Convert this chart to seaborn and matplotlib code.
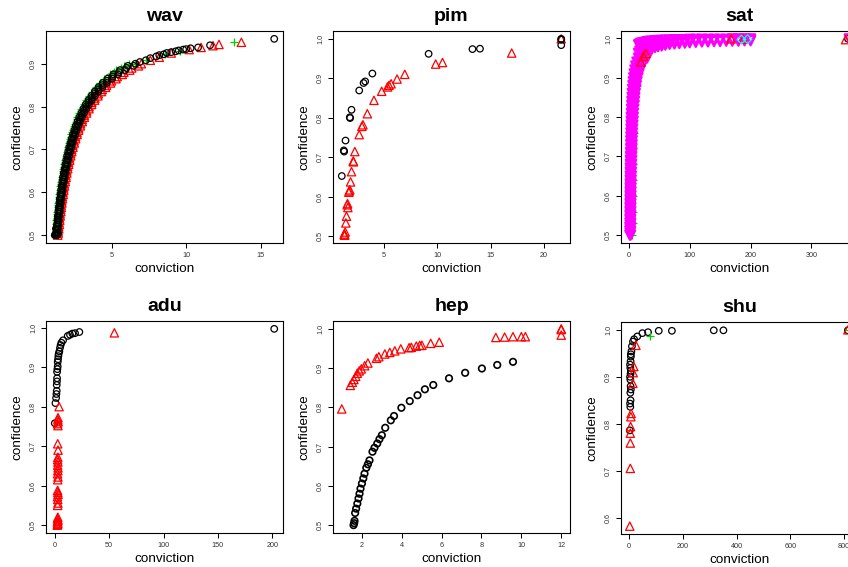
import matplotlib
matplotlib.use('Agg')
import matplotlib.pyplot as plt
from matplotlib.ticker import MultipleLocator
import seaborn as sns

sns.set_theme(style="ticks")
plt.rcParams['font.family'] = ['Liberation Sans', 'DejaVu Sans']
plt.rcParams['text.color'] = 'black'
plt.rcParams['axes.labelcolor'] = 'black'

# R default palette (pch/col by class)
BLACK = 'black'
RED = '#FF0000'
GREEN = '#00CD00'
CYAN = '#00FFFF'
MAGENTA = '#FF00FF'

# ---------------- wav ----------------
wav_conf = [0.50, 0.51, 0.52, 0.53, 0.54, 0.55, 0.56, 0.57, 0.58, 0.59,
            0.60, 0.61, 0.62, 0.63, 0.64, 0.65, 0.66, 0.67, 0.68, 0.69,
            0.70, 0.71, 0.72, 0.73, 0.74, 0.75, 0.76, 0.77, 0.78, 0.79,
            0.80, 0.81, 0.82, 0.83, 0.84, 0.85, 0.86, 0.87, 0.88, 0.89, 0.90]
wav_conf_half = [0.505, 0.515, 0.525, 0.535, 0.545, 0.555, 0.565, 0.575, 0.585, 0.595,
                 0.605, 0.615, 0.625, 0.635, 0.645, 0.655, 0.665, 0.675, 0.685, 0.695,
                 0.705, 0.715, 0.725, 0.735, 0.745, 0.755, 0.765, 0.775, 0.785, 0.795,
                 0.805, 0.815, 0.825, 0.835, 0.845, 0.855, 0.865, 0.875, 0.885, 0.895]
wav_black_conv = [1.32, 1.35, 1.38, 1.40, 1.43, 1.47, 1.50, 1.54, 1.57, 1.61,
                  1.65, 1.69, 1.74, 1.78, 1.83, 1.89, 1.94, 2.00, 2.06, 2.13,
                  2.20, 2.28, 2.36, 2.44, 2.54, 2.64, 2.75, 2.87, 3.00, 3.14,
                  3.30, 3.47, 3.67, 3.88, 4.13, 4.40, 4.71, 5.08, 5.50, 6.00, 6.60]
wav_black_half_a = [1.29, 1.32, 1.35, 1.38, 1.41, 1.44, 1.47, 1.51, 1.54, 1.58,
                    1.62, 1.66, 1.71, 1.75, 1.80, 1.86, 1.91, 1.97, 2.03, 2.10,
                    2.17, 2.25, 2.33, 2.42, 2.51, 2.61, 2.72, 2.84, 2.98, 3.12,
                    3.28, 3.46, 3.66, 3.88, 4.13, 4.41, 4.74, 5.12, 5.57, 6.10]
wav_black_half_b = [1.37, 1.40, 1.43, 1.46, 1.50, 1.53, 1.56, 1.60, 1.64, 1.68,
                    1.72, 1.77, 1.81, 1.86, 1.92, 1.97, 2.03, 2.09, 2.16, 2.23,
                    2.31, 2.39, 2.47, 2.57, 2.67, 2.78, 2.89, 3.02, 3.16, 3.32,
                    3.49, 3.68, 3.89, 4.12, 4.39, 4.69, 5.04, 5.44, 5.91, 6.48]
wav_red_conv = [1.40, 1.43, 1.46, 1.49, 1.52, 1.56, 1.59, 1.63, 1.67, 1.71,
                1.75, 1.80, 1.84, 1.89, 1.94, 2.00, 2.06, 2.12, 2.19, 2.26,
                2.33, 2.41, 2.50, 2.59, 2.69, 2.80, 2.92, 3.04, 3.18, 3.33,
                3.50, 3.68, 3.89, 4.12, 4.38, 4.67, 5.00, 5.38, 5.83, 6.36, 7.00]
wav_red_half = [1.44, 1.47, 1.51, 1.54, 1.57, 1.61, 1.64, 1.68, 1.72, 1.77,
                1.81, 1.86, 1.91, 1.96, 2.01, 2.07, 2.13, 2.20, 2.27, 2.34,
                2.42, 2.51, 2.60, 2.70, 2.80, 2.92, 3.04, 3.18, 3.33, 3.49,
                3.67, 3.87, 4.09, 4.33, 4.61, 4.93, 5.30, 5.72, 6.22, 6.81]
wav_green_conv = [1.24, 1.27, 1.29, 1.32, 1.35, 1.38, 1.41, 1.44, 1.48, 1.51,
                  1.55, 1.59, 1.63, 1.68, 1.72, 1.77, 1.82, 1.88, 1.94, 2.00,
                  2.07, 2.14, 2.21, 2.30, 2.38, 2.48, 2.58, 2.70, 2.82, 2.95,
                  3.10, 3.26, 3.44, 3.65, 3.88, 4.13, 4.43, 4.77, 5.17, 5.64, 6.20]
wav_green_half = [1.23, 1.26, 1.28, 1.31, 1.34, 1.37, 1.40, 1.44, 1.47, 1.51,
                  1.54, 1.58, 1.63, 1.67, 1.72, 1.77, 1.82, 1.88, 1.94, 2.00,
                  2.07, 2.14, 2.22, 2.30, 2.39, 2.49, 2.60, 2.71, 2.84, 2.98,
                  3.13, 3.30, 3.49, 3.70, 3.94, 4.21, 4.52, 4.88, 5.30, 5.81]
wav_black_extra_conv = [1.20, 1.25, 1.30, 1.36, 1.42, 1.28, 1.34,
                        6.9, 7.3, 7.6, 8.0, 8.2, 8.5, 8.7, 9.0, 9.3, 9.5, 9.8,
                        10.0, 10.3, 10.8, 11.6, 15.9]
wav_black_extra_conf = [0.500, 0.500, 0.505, 0.500, 0.505, 0.515, 0.520,
                        0.904, 0.908, 0.913, 0.917, 0.920, 0.922, 0.925, 0.927, 0.929,
                        0.931, 0.933, 0.934, 0.936, 0.938, 0.943, 0.958]
wav_red_extra_conv = [7.6, 8.2, 9.0, 10.2, 11.0, 11.8, 12.2, 13.7]
wav_red_extra_conf = [0.908, 0.915, 0.925, 0.933, 0.938, 0.942, 0.945, 0.950]
wav_green_extra_conv = [6.6, 7.3, 8.6, 9.6, 13.2]
wav_green_extra_conf = [0.900, 0.908, 0.922, 0.930, 0.950]

# ---------------- pim ----------------
pim_black_conv = [1.08, 1.27, 1.30, 1.43, 1.83, 1.86, 1.99, 2.71, 3.12, 3.27,
                  3.94, 9.2, 13.3, 14.0, 21.6, 21.6, 21.6]
pim_black_conf = [0.652, 0.717, 0.714, 0.742, 0.801, 0.799, 0.820, 0.869, 0.888, 0.892,
                  0.912, 0.962, 0.974, 0.975, 1.000, 0.998, 0.984]
pim_red_conv = [1.31, 1.33, 1.36, 1.40, 1.46, 1.52, 1.59, 1.62, 1.65, 1.74,
                1.78, 1.83, 1.90, 1.99, 2.15, 2.17, 2.30, 2.71, 2.96, 3.06,
                3.47, 4.09, 4.81, 5.35, 5.50, 5.69, 6.25, 6.97, 9.86, 10.5,
                16.97, 21.6]
pim_red_conf = [0.503, 0.505, 0.502, 0.510, 0.533, 0.550, 0.579, 0.582, 0.572, 0.611,
                0.614, 0.617, 0.637, 0.663, 0.690, 0.688, 0.714, 0.757, 0.778, 0.782,
                0.810, 0.844, 0.867, 0.878, 0.882, 0.886, 0.898, 0.910, 0.936, 0.940,
                0.964, 1.000]

# ---------------- sat ----------------
sat_mag_conf_v = [0.50, 0.51, 0.52, 0.53, 0.54, 0.55, 0.56, 0.57, 0.58, 0.59,
                  0.60, 0.61, 0.62, 0.63, 0.64, 0.65, 0.66, 0.67, 0.68, 0.69,
                  0.70, 0.71, 0.72, 0.73, 0.74, 0.75, 0.76, 0.77, 0.78, 0.79,
                  0.80, 0.81, 0.82, 0.83, 0.84, 0.85, 0.86, 0.87, 0.88, 0.89,
                  0.90, 0.91, 0.92, 0.93, 0.94, 0.95]
sat_mag_conf_half = [0.505, 0.515, 0.525, 0.535, 0.545, 0.555, 0.565, 0.575, 0.585, 0.595,
                     0.605, 0.615, 0.625, 0.635, 0.645, 0.655, 0.665, 0.675, 0.685, 0.695,
                     0.705, 0.715, 0.725, 0.735, 0.745, 0.755, 0.765, 0.775, 0.785, 0.795,
                     0.805, 0.815, 0.825, 0.835, 0.845, 0.855, 0.865, 0.875, 0.885, 0.895,
                     0.905, 0.915, 0.925, 0.935, 0.945]
sat_mag_left_conv = [1.60, 1.63, 1.67, 1.70, 1.74, 1.78, 1.82, 1.86, 1.90, 1.95,
                     2.00, 2.05, 2.11, 2.16, 2.22, 2.29, 2.35, 2.42, 2.50, 2.58,
                     2.67, 2.76, 2.86, 2.96, 3.08, 3.20, 3.33, 3.48, 3.64, 3.81,
                     4.00, 4.21, 4.44, 4.71, 5.00, 5.33, 5.71, 6.15, 6.67, 7.27,
                     8.00, 8.89, 10.0, 11.4, 13.3, 16.0]
sat_mag_mid_conv = [2.22, 2.27, 2.32, 2.37, 2.42, 2.47, 2.53, 2.59, 2.65, 2.72,
                    2.78, 2.86, 2.93, 3.01, 3.10, 3.19, 3.28, 3.38, 3.49, 3.61,
                    3.73, 3.86, 4.00, 4.15, 4.31, 4.49, 4.68, 4.89, 5.12, 5.37,
                    5.64, 5.95, 6.29, 6.67, 7.10, 7.59, 8.15, 8.80, 9.57, 10.5,
                    11.6, 12.9, 14.7, 16.9, 20.0]
sat_mag_right_conv = [3.00, 3.06, 3.13, 3.19, 3.26, 3.33, 3.41, 3.49, 3.57, 3.66,
                      3.75, 3.85, 3.95, 4.05, 4.17, 4.29, 4.41, 4.55, 4.69, 4.84,
                      5.00, 5.17, 5.36, 5.56, 5.77, 6.00, 6.25, 6.52, 6.82, 7.14,
                      7.50, 7.89, 8.33, 8.82, 9.38, 10.0, 10.7, 11.5, 12.5, 13.6,
                      15.0, 16.7, 18.8, 21.4, 25.0, 30.0]
sat_mag_h_conv = [16, 18, 20, 23, 26, 30, 34, 38, 43, 48, 54, 60, 67, 75, 83, 92,
                  100, 110, 120, 130, 140, 150, 160, 170, 180, 190, 200]
sat_mag_h_low = [0.940, 0.947, 0.952, 0.958, 0.963, 0.967, 0.971, 0.974, 0.977, 0.979,
                 0.981, 0.983, 0.985, 0.986, 0.987, 0.988, 0.989, 0.990, 0.991, 0.991,
                 0.992, 0.992, 0.993, 0.993, 0.993, 0.994, 0.994]
sat_mag_h_mid = [0.962, 0.967, 0.970, 0.974, 0.977, 0.980, 0.982, 0.984, 0.986, 0.987,
                 0.988, 0.990, 0.991, 0.992, 0.992, 0.993, 0.994, 0.994, 0.995, 0.995,
                 0.995, 0.995, 0.996, 0.996, 0.996, 0.997, 0.997]
sat_mag_h_high = [0.984, 0.986, 0.988, 0.989, 0.990, 0.992, 0.993, 0.993, 0.994, 0.995,
                  0.995, 0.996, 0.996, 0.997, 0.997, 0.997, 0.998, 0.998, 0.998, 0.998,
                  0.998, 0.998, 0.998, 0.999, 0.999, 0.999, 0.999]
sat_mag_far_conv = [362]
sat_mag_far_conf = [0.999]
sat_green_conv = [6.0, 6.2, 6.4, 6.6, 6.9, 7.2, 7.6, 8.2, 9.0, 10.5, 13.0, 17.5]
sat_green_conf = [0.50, 0.53, 0.56, 0.60, 0.64, 0.68, 0.72, 0.76, 0.80, 0.84, 0.88, 0.92]
sat_black_conv = [2.5, 3.0, 120, 140, 360]
sat_black_conf = [0.600, 0.610, 0.995, 0.996, 0.999]
sat_red_conv = [20, 24, 28, 168, 188, 356]
sat_red_conf = [0.940, 0.955, 0.962, 0.999, 0.998, 0.997]
sat_cyan_conv = [185, 195]
sat_cyan_conf = [0.997, 0.998]

# ---------------- adu ----------------
adu_black_conv = [0.0, 0.6, 1.2, 1.5, 1.8, 1.8, 2.0, 2.1, 2.1, 2.4,
                  2.7, 2.7, 3.0, 3.3, 3.6, 4.2, 4.8, 5.4, 6.1, 7.6,
                  11.9, 14.0, 16.2, 18.6, 22.6, 201.8]
adu_black_conf = [0.758, 0.809, 0.822, 0.832, 0.840, 0.855, 0.864, 0.872, 0.888, 0.895,
                  0.902, 0.913, 0.920, 0.928, 0.934, 0.940, 0.949, 0.956, 0.962, 0.968,
                  0.979, 0.982, 0.985, 0.986, 0.989, 0.997]
adu_red_conv = [2.3, 2.6, 2.9, 2.4, 2.7, 3.0, 2.5, 2.8, 2.6, 2.9,
                2.7, 2.5, 3.0, 2.8, 2.6, 2.7, 2.9, 2.6, 2.8, 3.0,
                2.7, 2.9, 2.6, 2.8, 3.0, 2.7, 2.9, 2.6, 3.1, 2.8,
                3.0, 4.0, 54.8]
adu_red_conf = [0.500, 0.502, 0.505, 0.508, 0.510, 0.513, 0.516, 0.520, 0.550, 0.556,
                0.565, 0.572, 0.578, 0.583, 0.588, 0.615, 0.622, 0.630, 0.638, 0.645,
                0.652, 0.660, 0.666, 0.672, 0.690, 0.706, 0.752, 0.757, 0.762, 0.767,
                0.772, 0.800, 0.987]

# ---------------- hep ----------------
hep_black_conv = [1.58, 1.61, 1.63, 1.66, 1.71, 1.77, 1.83, 1.88, 1.93, 2.00,
                  2.07, 2.13, 2.22, 2.30, 2.38, 2.53, 2.63, 2.77, 2.88, 3.00,
                  3.17, 3.45, 3.61, 3.98, 4.40, 4.79, 5.16, 5.58, 6.37, 7.18,
                  8.02, 8.79, 9.58]
hep_black_conf = [0.500, 0.505, 0.511, 0.531, 0.542, 0.555, 0.568, 0.580, 0.593, 0.606,
                  0.619, 0.631, 0.646, 0.655, 0.665, 0.687, 0.697, 0.708, 0.719, 0.729,
                  0.748, 0.767, 0.778, 0.799, 0.816, 0.831, 0.846, 0.857, 0.874, 0.888,
                  0.899, 0.908, 0.916]
hep_red_conv = [0.99, 1.42, 1.52, 1.60, 1.69, 1.77, 1.87, 1.97, 2.14, 2.30,
                2.73, 2.85, 3.15, 3.40, 3.65, 3.95, 4.37, 4.48, 4.73, 4.90,
                5.01, 5.45, 5.88, 8.72, 9.16, 9.58, 10.0, 10.2, 12.0, 12.0, 12.0]
hep_red_conf = [0.796, 0.856, 0.864, 0.871, 0.879, 0.887, 0.893, 0.898, 0.906, 0.913,
                0.925, 0.929, 0.936, 0.940, 0.944, 0.949, 0.952, 0.953, 0.956, 0.958,
                0.958, 0.963, 0.966, 0.978, 0.979, 0.980, 0.980, 0.980, 1.000, 0.998, 0.984]

# ---------------- shu ----------------
shu_black_conv = [2, 4, 3, 5, 4, 6, 5, 4, 3, 5, 6, 4, 3, 5, 6, 6, 8, 10, 14, 18,
                  30, 49, 70, 110, 159, 315, 351, 815]
shu_black_conf = [0.786, 0.836, 0.843, 0.850, 0.866, 0.873, 0.880, 0.894, 0.900, 0.907,
                  0.913, 0.919, 0.926, 0.933, 0.943, 0.948, 0.954, 0.965, 0.975, 0.980,
                  0.986, 0.993, 0.995, 0.998, 0.998, 0.999, 0.999, 0.999]
shu_red_conv = [2, 4, 4, 4, 5, 6, 7, 13.6, 14.6, 17, 25, 815]
shu_red_conf = [0.582, 0.705, 0.759, 0.780, 0.794, 0.815, 0.822, 0.886, 0.909, 0.922, 0.967, 1.000]
shu_green_conv = [76, 820]
shu_green_conf = [0.986, 1.000]

MARKER_SIZE = {'o': 22, '^': 36, 'v': 44, 'D': 20, '+': 38}


def draw_points(ax, x, y, marker, color, lw=0.9):
    if marker == '+':
        sns.scatterplot(x=x, y=y, marker='+', s=MARKER_SIZE[marker], color=color,
                        linewidth=lw, ax=ax, legend=False)
    else:
        sns.scatterplot(x=x, y=y, marker=marker, s=MARKER_SIZE[marker],
                        facecolor='none', edgecolor=color, linewidth=lw,
                        ax=ax, legend=False)


def finish(ax, title, xstep, ystep):
    ax.margins(x=0.04, y=0.04)
    ax.autoscale_view()
    ax.xaxis.set_major_locator(MultipleLocator(xstep))
    ax.yaxis.set_major_locator(MultipleLocator(ystep))
    ax.set_title(title, fontsize=14, fontweight='bold', color='black', pad=7.5)
    ax.set_xlabel('conviction', fontsize=9.7, labelpad=3)
    ax.set_ylabel('confidence', fontsize=9.7, labelpad=5)
    ax.tick_params(axis='both', direction='out', length=3.5, width=0.75,
                   color='black', labelsize=5.2, labelcolor='#333333', pad=3,
                   bottom=True, left=True)
    ax.tick_params(axis='y', labelrotation=90)
    for lbl in ax.get_yticklabels():
        lbl.set_verticalalignment('center')
    for sp in ax.spines.values():
        sp.set_visible(True)
        sp.set_color('black')
        sp.set_linewidth(0.8)
    ax.grid(False)


fig = plt.figure(figsize=(8.48, 5.67), dpi=100)
W, H = 848, 567


def make_axes(left, top):
    return fig.add_axes([left / W, (H - top - 212) / H, 237 / W, 212 / H])


ax_wav = make_axes(46, 31)
ax_pim = make_axes(333, 31)
ax_sat = make_axes(621, 31)
ax_adu = make_axes(46, 321)
ax_hep = make_axes(333, 321)
ax_shu = make_axes(621, 322)

# wav
draw_points(ax_wav, wav_red_conv, wav_conf, '^', RED)
draw_points(ax_wav, wav_red_half, wav_conf_half, '^', RED)
draw_points(ax_wav, wav_red_extra_conv, wav_red_extra_conf, '^', RED)
draw_points(ax_wav, wav_green_conv, wav_conf, '+', GREEN)
draw_points(ax_wav, wav_green_half, wav_conf_half, '+', GREEN)
draw_points(ax_wav, wav_green_extra_conv, wav_green_extra_conf, '+', GREEN)
draw_points(ax_wav, wav_black_conv, wav_conf, 'o', BLACK)
draw_points(ax_wav, wav_black_half_a, wav_conf_half, 'o', BLACK)
draw_points(ax_wav, wav_black_half_b, wav_conf_half, 'o', BLACK)
draw_points(ax_wav, wav_black_extra_conv, wav_black_extra_conf, 'o', BLACK)
finish(ax_wav, 'wav', 5, 0.1)

# pim
draw_points(ax_pim, pim_red_conv, pim_red_conf, '^', RED)
draw_points(ax_pim, pim_black_conv, pim_black_conf, 'o', BLACK)
finish(ax_pim, 'pim', 5, 0.1)

# sat
draw_points(ax_sat, sat_black_conv, sat_black_conf, 'o', BLACK)
draw_points(ax_sat, sat_green_conv, sat_green_conf, '+', GREEN)
for conv, conf in [(sat_mag_right_conv, sat_mag_conf_v),
                   (sat_mag_mid_conv, sat_mag_conf_half),
                   (sat_mag_left_conv, sat_mag_conf_v),
                   (sat_mag_h_conv, sat_mag_h_low),
                   (sat_mag_h_conv, sat_mag_h_mid),
                   (sat_mag_h_conv, sat_mag_h_high),
                   (sat_mag_far_conv, sat_mag_far_conf)]:
    draw_points(ax_sat, conv, conf, 'v', MAGENTA, lw=1.5)
draw_points(ax_sat, sat_red_conv, sat_red_conf, '^', RED)
draw_points(ax_sat, sat_cyan_conv, sat_cyan_conf, 'D', CYAN)
finish(ax_sat, 'sat', 100, 0.1)

# adu
draw_points(ax_adu, adu_black_conv, adu_black_conf, 'o', BLACK)
draw_points(ax_adu, adu_red_conv, adu_red_conf, '^', RED)
finish(ax_adu, 'adu', 50, 0.1)

# hep
draw_points(ax_hep, hep_black_conv, hep_black_conf, 'o', BLACK, lw=1.2)
draw_points(ax_hep, hep_red_conv, hep_red_conf, '^', RED)
finish(ax_hep, 'hep', 2, 0.1)

# shu
draw_points(ax_shu, shu_black_conv, shu_black_conf, 'o', BLACK)
draw_points(ax_shu, shu_red_conv, shu_red_conf, '^', RED)
draw_points(ax_shu, shu_green_conv, shu_green_conf, '+', GREEN)
finish(ax_shu, 'shu', 200, 0.1)

fig.savefig('out.png', dpi=100)
